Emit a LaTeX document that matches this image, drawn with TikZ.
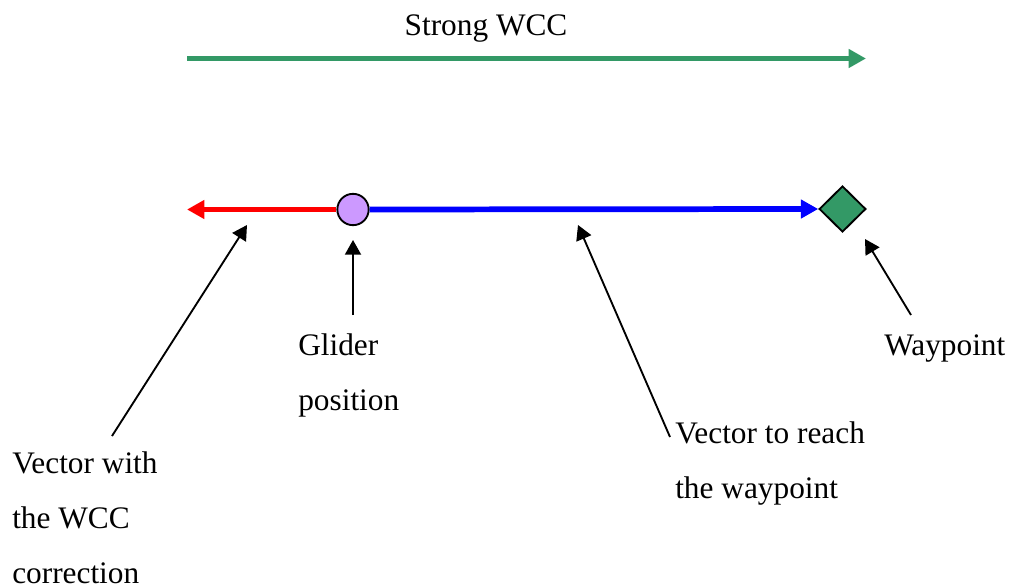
\documentclass[tikz,border=0pt]{standalone}
\usepackage{fontspec}
\setmainfont{Liberation Serif}
\usetikzlibrary{arrows.meta,shapes.geometric}
\definecolor{wccgreen}{RGB}{51,153,102}
\definecolor{glider}{RGB}{204,153,255}
\tikzset{
  vec/.style={line width=4.3pt,-{Triangle[length=13pt,width=13.5pt]}},
  pointer/.style={line width=1.4pt,-{Triangle[length=11pt,width=12pt]}},
  lbl/.style={anchor=base west,align=left,inner sep=0pt,font=\fontsize{23.5}{41.25}\selectfont},
}
\begin{document}
\begin{tikzpicture}[x=0.75pt,y=-0.75pt]
\useasboundingbox (0,0) rectangle (1017,588);
% green strong WCC arrow
\coordinate (gs) at (187,58.5);
\coordinate (ge) at (866,58.5);
\draw[vec,wccgreen] (gs) -- (ge);
\node[lbl,anchor=base] (strong) at (486,36) {Strong WCC};
% glider and waypoint
\node[circle,draw=black,line width=1.4pt,fill=glider,inner sep=0pt,minimum size=23.5pt] (gl) at (353,209.5) {};
\node[diamond,draw=black,line width=1.4pt,fill=wccgreen,inner sep=0pt,minimum width=35pt,minimum height=34.5pt] (wp) at (842.5,209) {};
\coordinate (rt) at (187,209.5);
\draw[vec,red] (gl.west) -- (rt);
\draw[vec,blue] (gl.east) -- (wp.west);
% labels (base = baseline of the last line)
\node[lbl] (glt) at (298,410) {Glider\\position};
\node[lbl] (wpt) at (884,355) {Waypoint};
\node[lbl] (vrt) at (675,498) {Vector to reach\\the waypoint};
\node[lbl] (vwt) at (12,583) {Vector with\\the WCC\\correction};
% pointers
\coordinate (p1s) at (112,436); \coordinate (p1e) at (247,225);
\coordinate (p2s) at (353,315); \coordinate (p2e) at (353,240);
\coordinate (p3s) at (670,437); \coordinate (p3e) at (578,225);
\coordinate (p4s) at (911,315); \coordinate (p4e) at (865,239);
\draw[pointer] (p1s) -- (p1e);
\draw[pointer] (p2s) -- (p2e);
\draw[pointer] (p3s) -- (p3e);
\draw[pointer] (p4s) -- (p4e);
\end{tikzpicture}
\end{document}
